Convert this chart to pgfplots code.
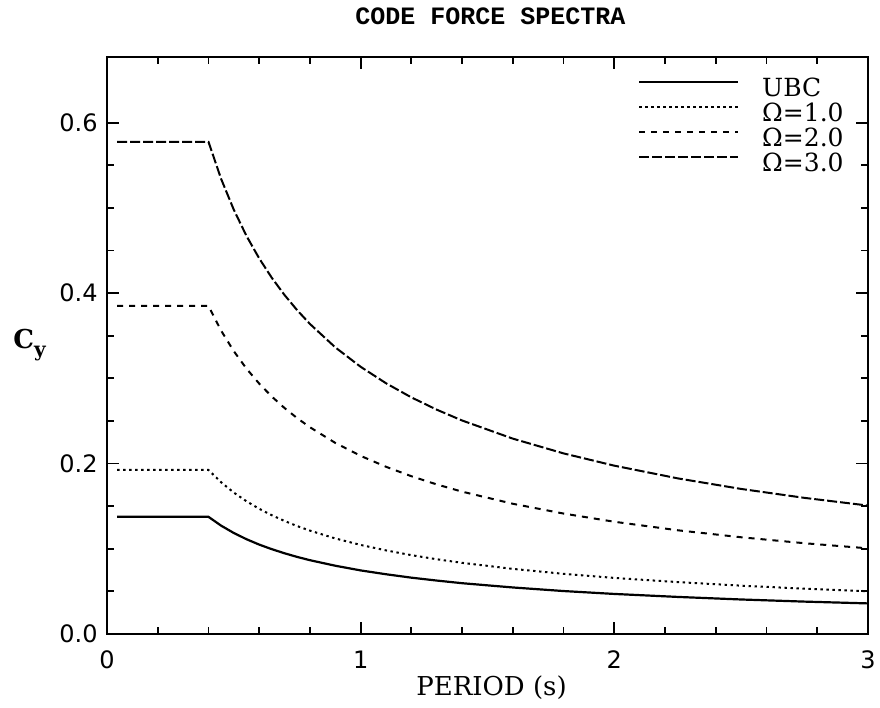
\documentclass[border=0pt]{standalone}
\usepackage{pgfplots}
\pgfplotsset{compat=1.18}
\usepackage{pgfplotstable}
\usepackage{fontspec}
\setmainfont{DejaVu Serif}
\newfontfamily\titlefont{Liberation Mono}
\newfontfamily\tickfont{DejaVu Sans}

\pgfplotstableread{
T ubc o1 o2 o3
0.04 0.1375 0.1925 0.3850 0.5775
0.40 0.1375 0.1925 0.3850 0.5775
0.45 0.1271 0.1780 0.3559 0.5339
0.50 0.1185 0.1659 0.3318 0.4977
0.55 0.1112 0.1557 0.3113 0.4670
0.60 0.1049 0.1469 0.2938 0.4407
0.65 0.0995 0.1393 0.2785 0.4178
0.70 0.0947 0.1326 0.2651 0.3977
0.75 0.0904 0.1266 0.2532 0.3798
0.80 0.0866 0.1213 0.2426 0.3638
0.90 0.0801 0.1121 0.2242 0.3363
1.00 0.0746 0.1045 0.2090 0.3135
1.10 0.0701 0.0981 0.1962 0.2942
1.20 0.0661 0.0925 0.1851 0.2776
1.30 0.0627 0.0877 0.1755 0.2632
1.40 0.0596 0.0835 0.1670 0.2505
1.60 0.0546 0.0764 0.1528 0.2292
1.80 0.0504 0.0706 0.1413 0.2119
2.00 0.0470 0.0658 0.1317 0.1975
2.25 0.0435 0.0609 0.1217 0.1826
2.50 0.0405 0.0567 0.1135 0.1702
2.75 0.0380 0.0532 0.1065 0.1597
3.00 0.0359 0.0502 0.1005 0.1507
}\datatable

\begin{document}
\begin{tikzpicture}
\useasboundingbox (-53.5pt,-37pt) rectangle (386.5pt,317pt);
\begin{axis}[
  at={(0,0)}, anchor=south west,
  scale only axis, width=380.5pt, height=288.5pt,
  xmin=0, xmax=3, ymin=0, ymax=0.677,
  xtick={0,1,2,3}, ytick={0,0.2,0.4,0.6},
  minor x tick num=4, minor y tick num=3,
  major tick length=6pt, minor tick length=3.5pt,
  tick align=inside,
  axis line style={line width=1pt},
  every tick/.style={black, line width=0.9pt},
  /pgf/number format/assume math mode=true,
  ticklabel style={font=\tickfont\fontsize{12}{14}\selectfont},
  xticklabel style={anchor=base, yshift=-17pt, inner sep=0pt},
  yticklabel style={anchor=east, xshift=-4.5pt, inner sep=0pt,
    /pgf/number format/.cd, fixed, fixed zerofill, precision=1},
  title={CODE FORCE SPECTRA},
  every axis title/.style={at={(rel axis cs:0.5,1)}, anchor=base, yshift=16pt, xshift=1.5pt,
    inner sep=0pt, font=\titlefont\bfseries\fontsize{12.5}{15}\selectfont},
  xlabel={PERIOD (s)},
  every axis x label/.style={at={(rel axis cs:0.5,0)}, anchor=base, yshift=-30.5pt, xshift=2pt,
    inner sep=0pt, font=\fontsize{13}{15}\selectfont},
  ylabel={\bfseries C\raisebox{-4pt}{\fontsize{10}{10}\selectfont y}},
  every axis y label/.style={at={(rel axis cs:0,0.5)}, anchor=west, xshift=-47pt,
    inner sep=0pt, font=\fontsize{13}{15}\selectfont},
  legend style={at={(rel axis cs:0.6978,1)}, anchor=north west, yshift=-10.6pt,
    draw=none, fill=none, inner sep=0pt, outer sep=0pt,
    font=\fontsize{12.5}{14}\selectfont,
    nodes={inner sep=0pt, text height=9pt, text depth=3.5pt},
    column sep=11.5pt, row sep=0pt},
  legend cell align=left,
  legend image code/.code={\draw[#1] (0pt,4.5pt) -- (49.5pt,4.5pt);},
]
\addplot[black, line width=1.1pt] table[x=T, y=ubc] {\datatable};
\addlegendentry{UBC}
\addplot[black, line width=1pt, dash pattern=on 1.2pt off 1.8pt] table[x=T, y=o1] {\datatable};
\addlegendentry{Ω=1.0}
\addplot[black, line width=1pt, dash pattern=on 3pt off 3pt] table[x=T, y=o2] {\datatable};
\addlegendentry{Ω=2.0}
\addplot[black, line width=1pt, dash pattern=on 5pt off 1.5pt] table[x=T, y=o3] {\datatable};
\addlegendentry{Ω=3.0}
\end{axis}
\end{tikzpicture}
\end{document}
